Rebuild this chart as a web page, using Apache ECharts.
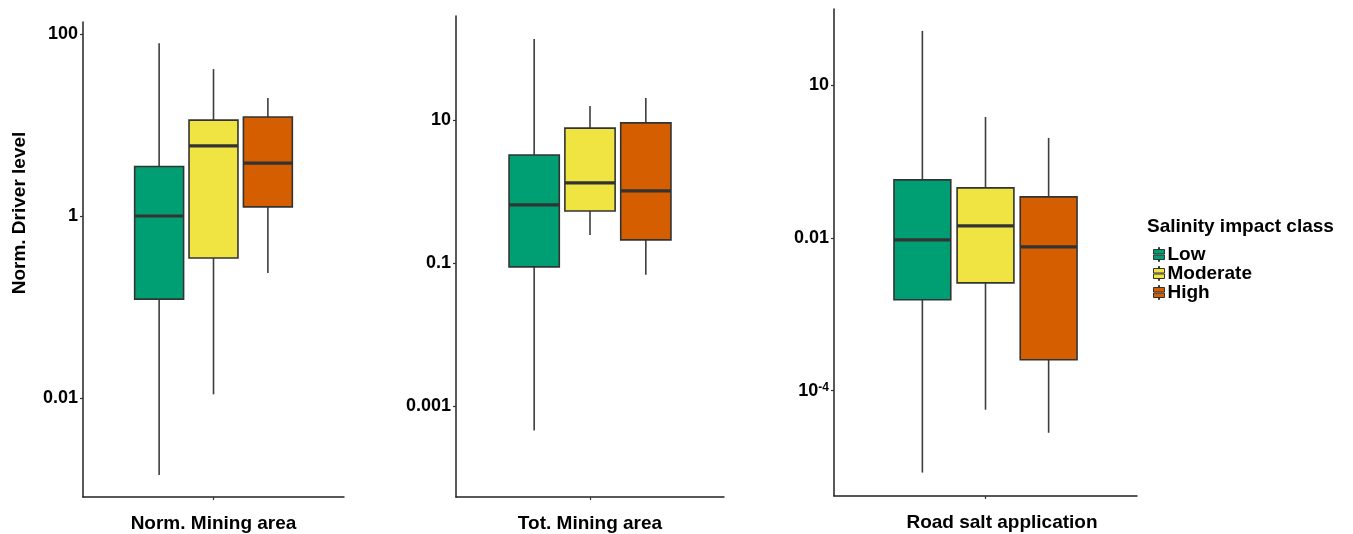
<!DOCTYPE html>
<html>
<head>
<meta charset="utf-8">
<title>Driver levels by salinity impact class</title>
<script src="https://cdn.jsdelivr.net/npm/echarts@6/dist/echarts.min.js"></script>
<style>
  html, body { margin: 0; padding: 0; background: #ffffff; }
  #chart { width: 1353px; height: 534px; }
</style>
</head>
<body>
<div id="chart"></div>
<script>
// Salinity impact classes and their fill colours
const classes = ['Low', 'Moderate', 'High'];
const classColors = ['#009E73', '#F0E442', '#D55E00'];

// One panel per driver
const drivers = ['Norm. Mining area', 'Tot. Mining area', 'Road salt application'];

// Five-number summaries per class: [min, Q1, median, Q3, max]
const normMiningArea = [
  [0.00143, 0.122, 1.0, 3.5, 79],
  [0.011, 0.345, 5.9, 11.3, 41],
  [0.237, 1.26, 3.8, 12.2, 19.8]
];
const totMiningArea = [
  [0.00045, 0.088, 0.647, 3.24, 136],
  [0.246, 0.533, 1.32, 7.7, 15.7],
  [0.068, 0.21, 1.02, 9.1, 20.3]
];
const roadSaltApplication = [
  [8.5e-6, 0.00155, 0.0094, 0.137, 115],
  [5.65e-5, 0.00258, 0.0172, 0.0955, 2.36],
  [2.82e-5, 0.000254, 0.0076, 0.0637, 0.914]
];
const panelStats = [normMiningArea, totMiningArea, roadSaltApplication];

// Y-axis break values and their labels, per panel
const tickValues = [
  [0.01, 1, 100],
  [0.001, 0.1, 10],
  [0.0001, 0.01, 10]
];
const tickLabels = [
  ['0.01', '1', '100'],
  ['0.001', '0.1', '10'],
  ['10^-4', '0.01', '10']
];
// Visible y range per panel
const yRanges = [
  [8.2e-4, 135],
  [5.3e-5, 285],
  [4.2e-6, 309]
];

// Log scale anchored on the breaks: each break sits one unit apart,
// values in between are placed log-linearly inside their segment.
function breakScale(v, breaks) {
  const e = breaks.map(Math.log10);
  const l = Math.log10(v);
  const i = l < e[1] ? 0 : 1;
  return i + (l - e[i]) / (e[i + 1] - e[i]);
}

const FONT = '"Liberation Sans", Arial, Helvetica, sans-serif';
const AXIS_COLOR = '#222222';

const gridBoxes = [
  { left: 83, top: 22, width: 261, height: 475 },
  { left: 456, top: 16, width: 268, height: 481 },
  { left: 834, top: 9, width: 303, height: 487 }
];

function formatBreak(label) {
  const parts = label.split('^');
  if (parts.length === 2) {
    return '{b|' + parts[0] + '}{s|' + parts[1] + '}';
  }
  return '{b|' + label + '}';
}

function renderBox(params, api) {
  const xPos = api.value(0);
  const v = [1, 2, 3, 4, 5].map(function (d) { return api.value(d); });
  const pt = function (val) { return api.coord([xPos, val]); };
  const cx = pt(v[2])[0];
  const half = api.size([0.9, 0])[0] / 2;
  const yMin = pt(v[0])[1];
  const yQ1 = pt(v[1])[1];
  const yMed = pt(v[2])[1];
  const yQ3 = pt(v[3])[1];
  const yMax = pt(v[4])[1];
  const fill = api.visual('color');
  const whisker = { stroke: '#3d3d3d', lineWidth: 1.6 };
  return {
    type: 'group',
    children: [
      { type: 'line', shape: { x1: cx, y1: yQ3, x2: cx, y2: yMax }, style: whisker },
      { type: 'line', shape: { x1: cx, y1: yQ1, x2: cx, y2: yMin }, style: whisker },
      {
        type: 'rect',
        shape: { x: cx - half, y: yQ3, width: half * 2, height: yQ1 - yQ3 },
        style: { fill: fill, stroke: '#333333', lineWidth: 1.6 }
      },
      {
        type: 'line',
        shape: { x1: cx - half, y1: yMed, x2: cx + half, y2: yMed },
        style: { stroke: '#333333', lineWidth: 3.2 }
      }
    ]
  };
}

const grids = [];
const xAxes = [];
const yAxes = [];
const series = [];

drivers.forEach(function (driver, p) {
  grids.push(Object.assign({ outerBoundsMode: 'none', containLabel: false }, gridBoxes[p]));

  xAxes.push({
    type: 'value',
    gridIndex: p,
    min: -2.4,
    max: 2.4,
    name: driver,
    nameLocation: 'middle',
    nameGap: 17,
    nameTextStyle: {
      fontFamily: FONT, fontSize: 19, fontWeight: 'bold', color: '#000',
      padding: p === 2 ? [0, 0, 0, 33] : 0
    },
    axisLine: { show: true, onZero: false, lineStyle: { color: AXIS_COLOR, width: 1.5 } },
    axisTick: { show: true, length: 3, customValues: [0], lineStyle: { color: '#333', width: 1.2 } },
    axisLabel: { show: false },
    splitLine: { show: false }
  });

  const breaks = tickValues[p];
  const breakPositions = breaks.map(function (b) { return breakScale(b, breaks); });
  yAxes.push({
    type: 'value',
    gridIndex: p,
    min: breakScale(yRanges[p][0], breaks),
    max: breakScale(yRanges[p][1], breaks),
    axisLine: { show: true, onZero: false, lineStyle: { color: AXIS_COLOR, width: 1.5 } },
    axisTick: { show: true, length: 3, customValues: breakPositions, lineStyle: { color: '#333', width: 1.2 } },
    axisLabel: {
      show: true,
      customValues: breakPositions,
      margin: 5,
      color: '#000',
      fontFamily: FONT,
      fontSize: 18,
      fontWeight: 'bold',
      formatter: function (val) {
        return formatBreak(tickLabels[p][Math.round(val)]);
      },
      rich: {
        b: { fontFamily: FONT, fontSize: 18, fontWeight: 'bold', color: '#000' },
        s: { fontFamily: FONT, fontSize: 12, fontWeight: 'bold', color: '#000', verticalAlign: 'top', padding: [0, 0, 6, 0] }
      }
    },
    splitLine: { show: false }
  });

  classes.forEach(function (cls, c) {
    const stats = panelStats[p][c];
    series.push({
      type: 'custom',
      name: cls,
      xAxisIndex: p,
      yAxisIndex: p,
      silent: true,
      itemStyle: { color: classColors[c], borderColor: '#333', borderWidth: 1 },
      encode: { x: 0, y: [1, 2, 3, 4, 5] },
      data: [[c - 1].concat(stats.map(function (s) { return breakScale(s, breaks); }))],
      renderItem: renderBox
    });
  });
});

const chart = echarts.init(document.getElementById('chart'), null, { renderer: 'canvas' });
chart.setOption({
  animation: false,
  backgroundColor: '#ffffff',
  title: {
    text: 'Salinity impact class',
    left: 1147,
    top: 217,
    padding: 0,
    textStyle: { fontFamily: FONT, fontSize: 19, fontWeight: 'bold', color: '#000' }
  },
  legend: {
    orient: 'vertical',
    left: 1153,
    top: 245,
    padding: 0,
    itemWidth: 11,
    itemHeight: 14,
    itemGap: 0,
    selectedMode: false,
    data: classes,
    icon: 'path://M5,0H6V2H5Z M0,2H11V6.5H0Z M0,7.5H11V12H0Z M5,12H6V14H5Z',
    itemStyle: { borderColor: '#333', borderWidth: 1 },
    textStyle: { fontFamily: FONT, fontSize: 19, fontWeight: 'bold', color: '#000', lineHeight: 17.5, padding: [0, 0, 0, -2] }
  },
  graphic: [{
    type: 'text',
    x: 19.5,
    y: 213,
    rotation: Math.PI / 2,
    style: {
      text: 'Norm. Driver level',
      font: 'bold 19px ' + FONT,
      fill: '#000',
      align: 'center',
      verticalAlign: 'middle'
    }
  }],
  grid: grids,
  xAxis: xAxes,
  yAxis: yAxes,
  series: series
});
</script>
</body>
</html>
